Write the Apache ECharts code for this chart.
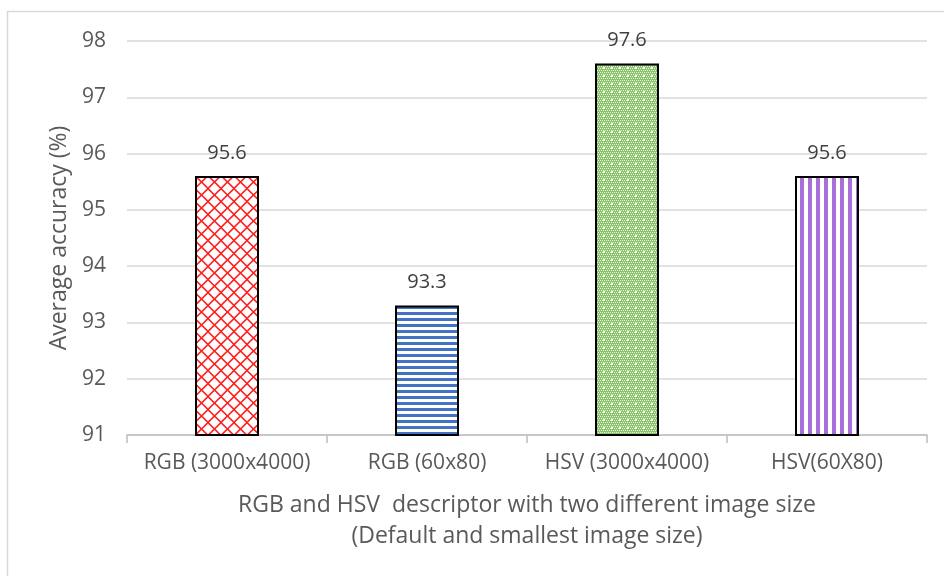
<!DOCTYPE html>
<html><head><meta charset="utf-8">
<script src="https://cdn.jsdelivr.net/npm/echarts@6/dist/echarts.min.js"></script>
<style>html,body{margin:0;padding:0;background:#fff}#c{width:944px;height:576px}</style>
</head><body><div id="c"></div>
<script>
const categories = ['RGB (3000x4000)', 'RGB (60x80)', 'HSV (3000x4000)', 'HSV(60X80)'];
const accuracy = [95.6, 93.3, 97.6, 95.6];
const yTicks = [91, 92, 93, 94, 95, 96, 97, 98];

function tile(w, h, draw) {
  const c = document.createElement('canvas');
  c.width = w; c.height = h;
  const ctx = c.getContext('2d');
  ctx.fillStyle = '#fff'; ctx.fillRect(0, 0, w, h);
  draw(ctx);
  return { image: c, repeat: 'repeat' };
}
const redLattice = tile(13, 13, ctx => {
  ctx.strokeStyle = '#ff2020'; ctx.lineWidth = 1.6;
  ctx.beginPath();
  ctx.moveTo(0, 6.5); ctx.lineTo(6.5, 0); ctx.lineTo(13, 6.5); ctx.lineTo(6.5, 13); ctx.closePath();
  ctx.stroke();
});
const blueStripes = tile(6, 6, ctx => {
  ctx.fillStyle = '#4472c4'; ctx.fillRect(0, 0, 6, 3);
});
const greenDots = tile(8, 8, ctx => {
  ctx.fillStyle = '#8cc56b'; ctx.fillRect(0, 0, 8, 8);
  ctx.fillStyle = '#e6f2dc';
  for (let y = 0; y < 8; y += 2) for (let x = (y / 2) % 2; x < 8; x += 2) ctx.fillRect(x, y, 1, 1);
  ctx.fillStyle = '#ffffff'; ctx.fillRect(3, 3, 2, 2);
});
const purpleStripes = tile(8, 8, ctx => {
  ctx.fillStyle = '#a66fd9'; ctx.fillRect(0, 0, 4, 8);
});
const fills = [redLattice, blueStripes, greenDots, purpleStripes];

const chart = echarts.init(document.getElementById('c'));
const font = '"Open Sans", sans-serif';
chart.setOption({
  backgroundColor: '#fff',
  animation: false,
  textStyle: { fontFamily: font },
  graphic: [{ type: 'rect', shape: { x: 7.5, y: 11.5, width: 1000, height: 1000 }, style: { fill: 'none', stroke: '#d9d9d9', lineWidth: 1.5 }, silent: true }],
  grid: { left: 127, right: 17, top: 41, bottom: 141 },
  xAxis: {
    type: 'category', data: categories,
    axisLine: { lineStyle: { color: '#bfbfbf', width: 1.5 } },
    axisTick: { show: true, length: 8, lineStyle: { color: '#bfbfbf', width: 1.5 } },
    axisLabel: { color: '#595959', fontSize: 21, margin: 18, interval: 0, fontFamily: font },
    name: 'RGB and HSV  descriptor with two different image size\n(Default and smallest image size)',
    nameLocation: 'middle', nameGap: 55,
    nameTextStyle: { color: '#595959', fontSize: 23, lineHeight: 31, fontFamily: font }
  },
  yAxis: {
    type: 'value', min: yTicks[0], max: yTicks[yTicks.length - 1], interval: 1,
    axisLine: { show: false }, axisTick: { show: false },
    splitLine: { lineStyle: { color: '#d9d9d9', width: 1.5 } },
    axisLabel: { color: '#595959', fontSize: 21, margin: 21, fontFamily: font },
    name: 'Average accuracy (%)', nameLocation: 'middle', nameGap: 55,
    nameTextStyle: { color: '#595959', fontSize: 23, fontFamily: font }
  },
  series: [{
    type: 'bar', barWidth: 64,
    data: accuracy.map((v, i) => ({ value: v, itemStyle: { color: fills[i] } })),
    itemStyle: { borderColor: '#000', borderWidth: 2 },
    label: { show: true, position: 'top', distance: 13, color: '#404040', fontSize: 20, fontFamily: font, formatter: p => p.value.toFixed(1) }
  }]
});
</script></body></html>
